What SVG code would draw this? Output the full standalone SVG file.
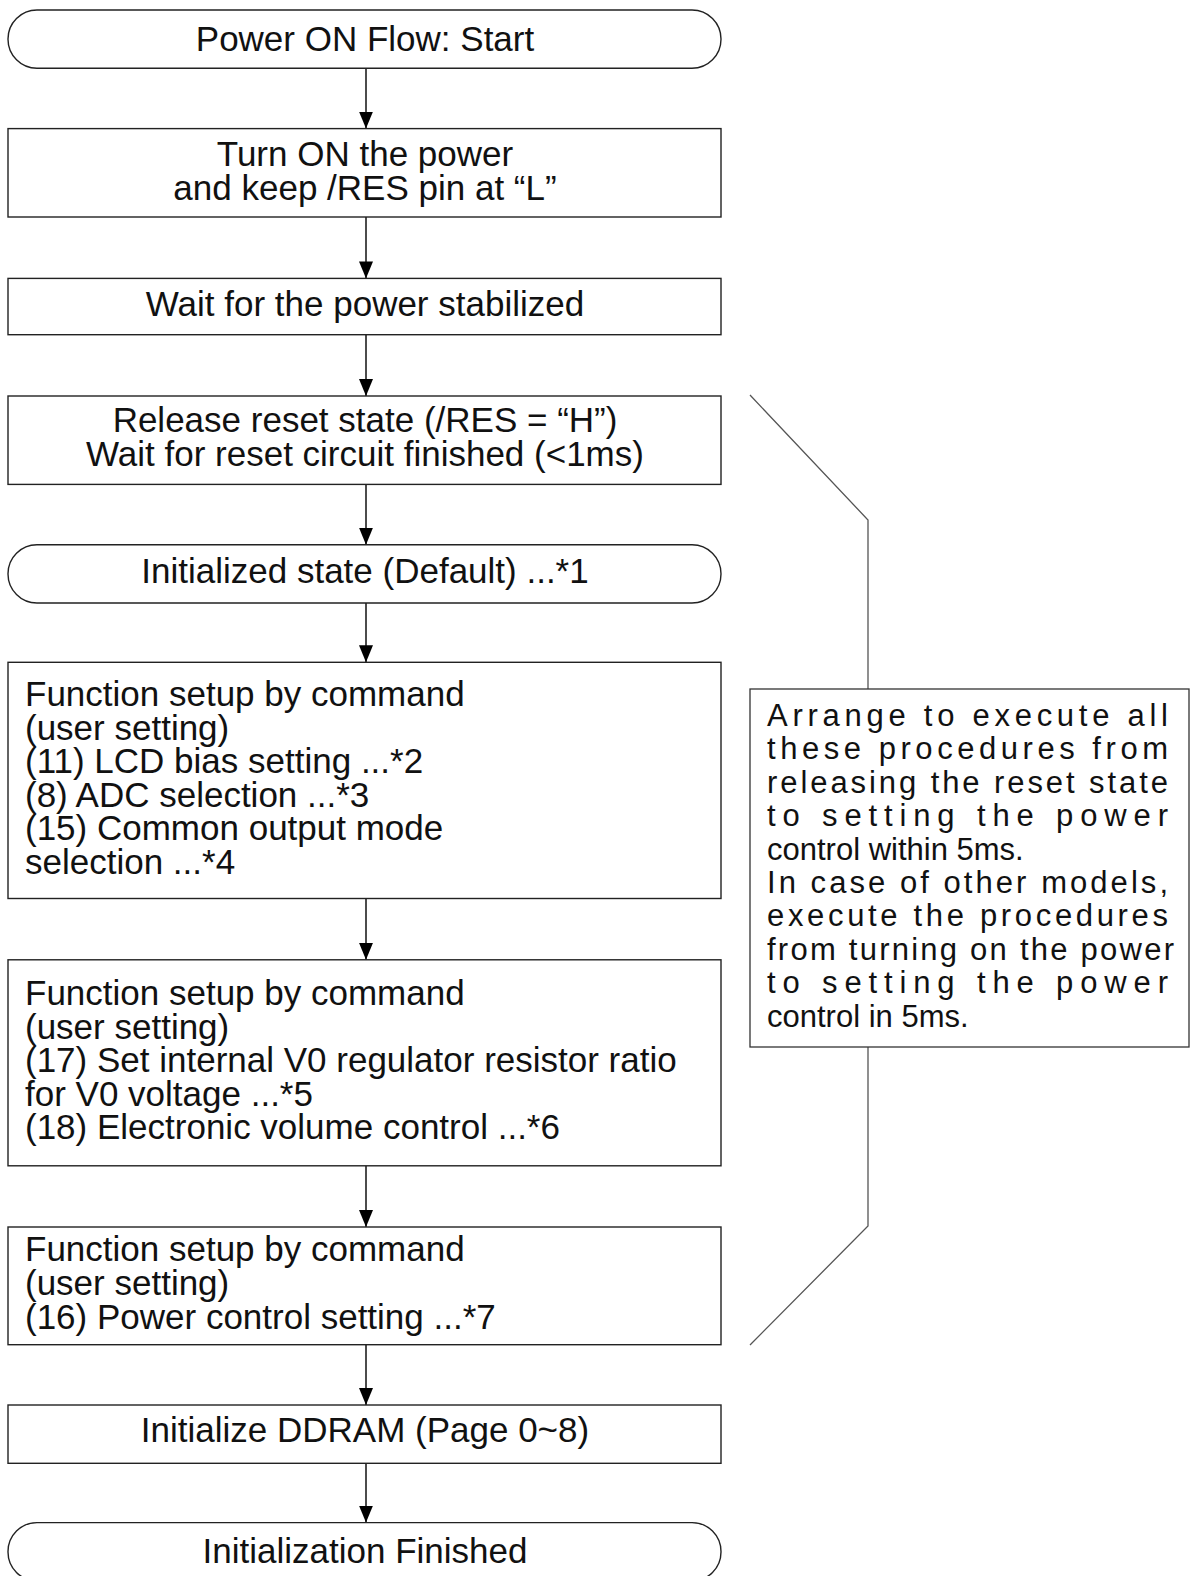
<svg xmlns="http://www.w3.org/2000/svg" width="1191" height="1576" viewBox="0 0 1191 1576">
<style>
.box{fill:#fff;stroke:#222;stroke-width:1.4}
.t{font-family:"Liberation Sans",Arial,sans-serif;font-size:35px;fill:#111}
.c{text-anchor:middle}
.n{font-family:"Liberation Sans",Arial,sans-serif;font-size:31px;fill:#111}
.con{stroke:#111;stroke-width:1.5;fill:none}
.br{stroke:#555;stroke-width:1.3;fill:none}
</style>
<defs>
<marker id="ah" markerWidth="17" markerHeight="14" refX="17" refY="7" orient="auto" markerUnits="userSpaceOnUse" viewBox="0 0 17 14">
<path d="M0,0 L17,7 L0,14 Z" fill="#000"/>
</marker>
</defs>
<rect width="1191" height="1576" fill="#fff"/>
<g id="connectors">
<line class="con" x1="366" y1="68.3" x2="366" y2="128.6" marker-end="url(#ah)"/>
<line class="con" x1="366" y1="217" x2="366" y2="278.4" marker-end="url(#ah)"/>
<line class="con" x1="366" y1="334.7" x2="366" y2="396" marker-end="url(#ah)"/>
<line class="con" x1="366" y1="484.4" x2="366" y2="544.7" marker-end="url(#ah)"/>
<line class="con" x1="366" y1="603" x2="366" y2="662.3" marker-end="url(#ah)"/>
<line class="con" x1="366" y1="898.5" x2="366" y2="959.8" marker-end="url(#ah)"/>
<line class="con" x1="366" y1="1165.8" x2="366" y2="1227" marker-end="url(#ah)"/>
<line class="con" x1="366" y1="1344.7" x2="366" y2="1405" marker-end="url(#ah)"/>
<line class="con" x1="366" y1="1463.3" x2="366" y2="1522.6" marker-end="url(#ah)"/>
<polyline class="br" points="750,395 868,520 868,689"/>
<polyline class="br" points="868,1047 868,1226 750,1345"/>
</g>
<g id="start">
<rect class="box" x="8" y="10" width="713" height="58.3" rx="29" ry="29"/>
<text class="t c" x="365" y="51">Power ON Flow: Start</text>
</g>
<g id="power-on">
<rect class="box" x="8" y="128.6" width="713" height="88.4"/>
<text class="t c" x="365" y="166">Turn ON the power</text>
<text class="t c" x="365" y="200">and keep /RES pin at “L”</text>
</g>
<g id="wait-power">
<rect class="box" x="8" y="278.4" width="713" height="56.3"/>
<text class="t c" x="365" y="316">Wait for the power stabilized</text>
</g>
<g id="release-reset">
<rect class="box" x="8" y="396" width="713" height="88.4"/>
<text class="t c" x="365" y="432">Release reset state (/RES = “H”)</text>
<text class="t c" x="365" y="466">Wait for reset circuit finished (&lt;1ms)</text>
</g>
<g id="initialized">
<rect class="box" x="8" y="544.7" width="713" height="58.3" rx="29" ry="29"/>
<text class="t c" x="365" y="583">Initialized state (Default) ...*1</text>
</g>
<g id="setup1">
<rect class="box" x="8" y="662.3" width="713" height="236.2"/>
<text class="t" x="25" y="706">Function setup by command</text>
<text class="t" x="25" y="739.5">(user setting)</text>
<text class="t" x="25" y="773">(11) LCD bias setting ...*2</text>
<text class="t" x="25" y="806.5">(8) ADC selection ...*3</text>
<text class="t" x="25" y="840">(15) Common output mode</text>
<text class="t" x="25" y="873.5">selection ...*4</text>
</g>
<g id="setup2">
<rect class="box" x="8" y="959.8" width="713" height="206"/>
<text class="t" x="25" y="1005">Function setup by command</text>
<text class="t" x="25" y="1038.5">(user setting)</text>
<text class="t" x="25" y="1072">(17) Set internal V0 regulator resistor ratio</text>
<text class="t" x="25" y="1105.5">for V0 voltage ...*5</text>
<text class="t" x="25" y="1139">(18) Electronic volume control ...*6</text>
</g>
<g id="setup3">
<rect class="box" x="8" y="1227" width="713" height="117.7"/>
<text class="t" x="25" y="1261">Function setup by command</text>
<text class="t" x="25" y="1295">(user setting)</text>
<text class="t" x="25" y="1328.5">(16) Power control setting ...*7</text>
</g>
<g id="ddram">
<rect class="box" x="8" y="1405" width="713" height="58.3"/>
<text class="t c" x="365" y="1442">Initialize DDRAM (Page 0~8)</text>
</g>
<g id="finished">
<rect class="box" x="8" y="1522.6" width="713" height="58.3" rx="29" ry="29"/>
<text class="t c" x="365" y="1563">Initialization Finished</text>
</g>
<g id="note">
<rect class="box" x="750" y="689" width="439" height="358" style="stroke:#333;stroke-width:1.3"/>
<text class="n" x="767" y="726" textLength="401" lengthAdjust="spacing">Arrange to execute all</text>
<text class="n" x="767" y="759.4" textLength="401" lengthAdjust="spacing">these procedures from</text>
<text class="n" x="767" y="792.8" textLength="401" lengthAdjust="spacing">releasing the reset state</text>
<text class="n" x="767" y="826.2" textLength="401" lengthAdjust="spacing">to setting the power</text>
<text class="n" x="767" y="859.6">control within 5ms.</text>
<text class="n" x="767" y="893" textLength="401" lengthAdjust="spacing">In case of other models,</text>
<text class="n" x="767" y="926.4" textLength="401" lengthAdjust="spacing">execute the procedures</text>
<text class="n" x="767" y="959.8" textLength="407" lengthAdjust="spacing">from turning on the power</text>
<text class="n" x="767" y="993.2" textLength="401" lengthAdjust="spacing">to setting the power</text>
<text class="n" x="767" y="1026.6">control in 5ms.</text>
</g>
</svg>
